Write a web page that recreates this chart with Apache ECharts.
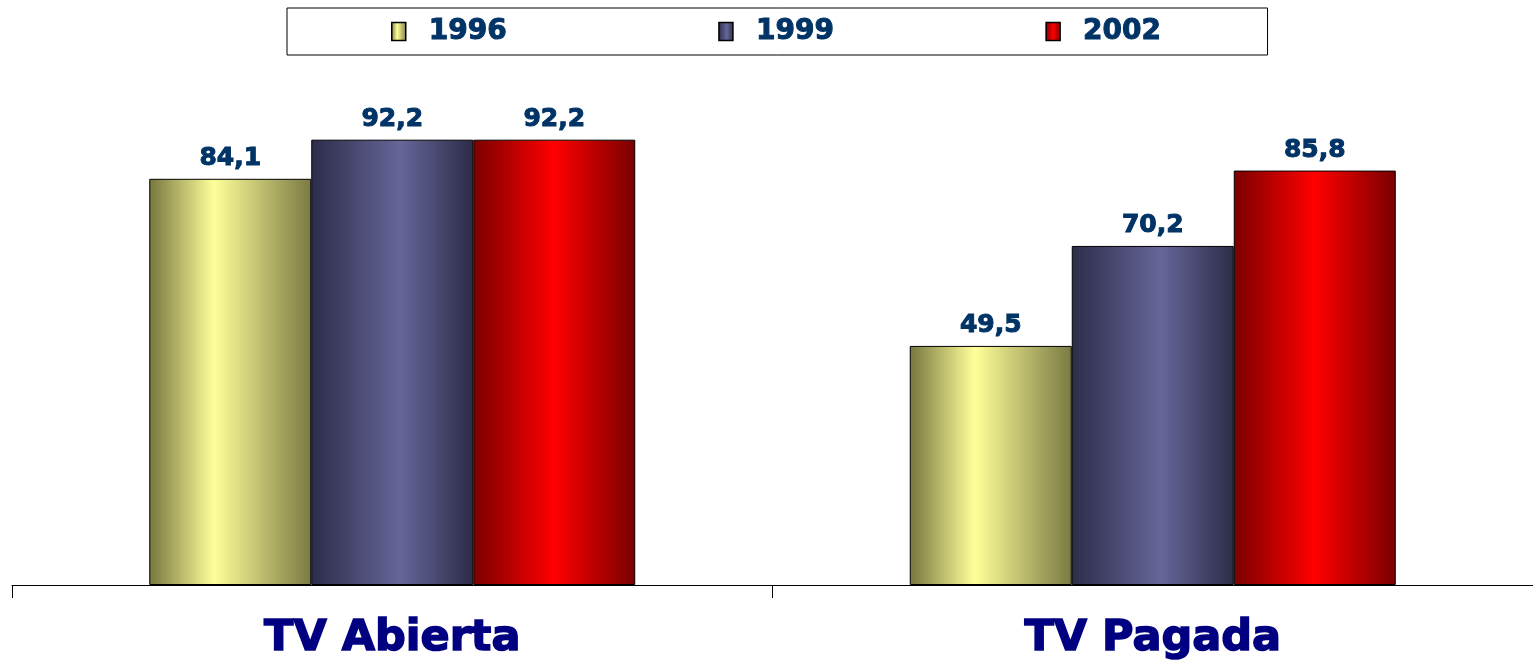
<!DOCTYPE html>
<html>
<head>
<meta charset="utf-8">
<script src="https://cdn.jsdelivr.net/npm/echarts@6/dist/echarts.min.js"></script>
<style>html,body{margin:0;padding:0;background:#fff}#c{width:1533px;height:661px}</style>
</head>
<body>
<div id="c"></div>
<script>
const categories = ['TV Abierta', 'TV Pagada'];
const seriesNames = ['1996', '1999', '2002'];
const values1996 = [84.1, 49.5];
const values1999 = [92.2, 70.2];
const values2002 = [92.2, 85.8];

function grad(edgeL, mid, edgeR, pos) {
  return new echarts.graphic.LinearGradient(0, 0, 1, 0, [
    {offset: 0, color: edgeL},
    {offset: pos, color: mid},
    {offset: 1, color: edgeR}
  ]);
}
const colors = [
  grad('#76763f', '#ffff99', '#7a7a44', 0.4),
  grad('#2c2c4a', '#666699', '#2c2c48', 0.55),
  grad('#7a0000', '#ff0000', '#780000', 0.5)
];
const allValues = [values1996, values1999, values2002];

const chart = echarts.init(document.getElementById('c'));
chart.setOption({
  animation: false,
  legend: {
    top: 8,
    left: 287,
    padding: [9, 106, 9, 104],
    borderColor: '#000',
    borderWidth: 1,
    itemGap: 211,
    itemWidth: 14,
    itemHeight: 18,
    icon: 'rect',
    itemStyle: {borderColor: '#000', borderWidth: 1.5},
    textStyle: {
      fontFamily: 'DejaVu Sans', fontWeight: 'bold', fontSize: 28, color: '#003366',
      textBorderColor: '#003366', textBorderWidth: 1,
      padding: [2, 0, 0, 18]
    },
    data: seriesNames
  },
  grid: {left: 12, right: 0, top: 102, bottom: 76},
  xAxis: {
    type: 'category',
    data: categories,
    axisLine: {lineStyle: {color: '#000', width: 1}},
    axisTick: {show: true, length: 13, lineStyle: {color: '#000'}},
    axisLabel: {
      margin: 32,
      fontFamily: 'DejaVu Sans', fontWeight: 'bold', fontSize: 43, color: '#000080',
      textBorderColor: '#000080', textBorderWidth: 1.5
    }
  },
  yAxis: {type: 'value', min: 0, max: 100, show: false, splitLine: {show: false}},
  series: seriesNames.map((n, i) => ({
    name: n,
    type: 'bar',
    barWidth: 162,
    barGap: '0%',
    data: allValues[i],
    itemStyle: {color: colors[i], borderColor: '#000', borderWidth: 1},
    label: {
      show: true,
      position: 'top',
      distance: 8,
      formatter: p => String(p.value).replace('.', ','),
      fontFamily: 'DejaVu Sans', fontWeight: 'bold', fontSize: 25, color: '#003366',
      textBorderColor: '#003366', textBorderWidth: 1
    }
  }))
});
</script>
</body>
</html>
